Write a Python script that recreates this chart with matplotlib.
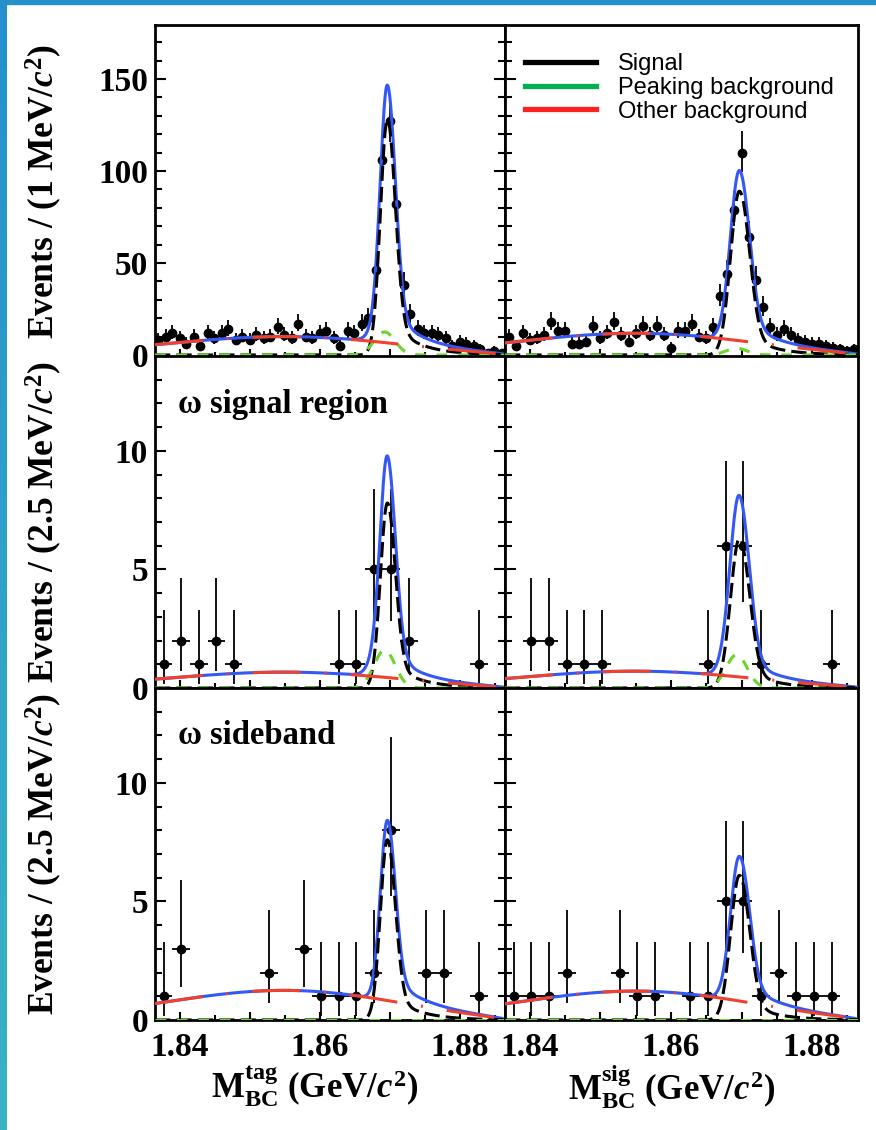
import numpy as np
import matplotlib.pyplot as plt
from matplotlib.lines import Line2D
from matplotlib.ticker import MultipleLocator, FuncFormatter
from matplotlib.colors import LinearSegmentedColormap

plt.rcParams['font.family'] = ['Liberation Serif', 'DejaVu Serif']
plt.rcParams['font.weight'] = 'bold'
plt.rcParams['axes.labelweight'] = 'bold'
plt.rcParams['mathtext.fontset'] = 'custom'
plt.rcParams['mathtext.rm'] = 'Liberation Serif:bold'
plt.rcParams['mathtext.it'] = 'Liberation Serif:bold:italic'
plt.rcParams['mathtext.bf'] = 'Liberation Serif:bold'

# M_BC histogram range (GeV/c^2) and binning
m_lo, m_hi = 1.8365, 1.8865
n_fine, n_coarse = 50, 20

# events / 1 MeV, all candidates (top row)
tag_all = [8, 10, 12, 9, 6, 10, 5, 12, 9, 12, 14, 8, 10, 8, 11, 9, 10, 15, 11, 9,
           17, 10, 9, 12, 13, 9, 5, 13, 12, 17, 20, 46, 106, 127, 82, 38, 22, 14, 12, 12,
           11, 9, 5, 7, 6, 5, 3, 1, 2, 1]
sig_all = [10, 5, 12, 8, 9, 11, 18, 13, 13, 6, 6, 7, 16, 9, 12, 18, 11, 7, 12, 16,
           11, 16, 11, 4, 13, 13, 17, 10, 9, 15, 32, 44, 79, 110, 64, 41, 26, 15, 11, 14,
           11, 8, 7, 6, 6, 5, 4, 3, 2, 3]
# events / 2.5 MeV, omega signal region (middle row) and omega sideband (bottom row)
tag_wsig = [1, 2, 1, 2, 1, 0, 0, 0, 0, 0, 1, 1, 5, 5, 2, 0, 0, 0, 1, 0]
sig_wsig = [0, 2, 2, 1, 1, 1, 0, 0, 0, 0, 0, 1, 6, 6, 1, 0, 0, 0, 1, 0]
tag_wsb = [1, 3, 0, 0, 0, 0, 2, 0, 3, 1, 1, 1, 2, 8, 0, 2, 2, 0, 1, 0]
sig_wsb = [1, 1, 1, 2, 0, 0, 2, 1, 1, 0, 1, 1, 5, 5, 1, 2, 1, 1, 1, 0]

# fit results per panel: (tag, sig) x (all, omega signal, omega sideband)
sig_peak = [128, 89, 7.8, 6.3, 7.6, 6.1]
pkbg_peak = [12.5, 3.6, 1.6, 1.4, 0.0, 0.0]
bkg_peak = [10.0, 11.8, 0.67, 0.71, 1.25, 1.22]
sig_width = [(1.0, 1.1), (1.25, 1.35)]   # MeV, low / high side
m_d = 1.8697


def signal_shape(m, sl, sr):
    d = (m - m_d) * 1000
    core = np.where(d < 0, np.exp(-0.5 * (d / sl) ** 2), np.exp(-0.5 * (d / sr) ** 2))
    dp = np.clip(d, 0, None)
    tail = 0.156 * np.exp(-dp / 3.8) * (1 - np.exp(-(dp / 1.5) ** 2))
    return core + tail


def peaking_shape(m):
    return np.exp(-0.5 * ((m - 1.8693) * 1000 / 1.5) ** 2)


def bkg_shape(m):
    y = np.clip(1 - (m / m_hi) ** 2, 0, None)
    f = np.sqrt(y) * np.exp(-0.5 * ((m - 1.860) / 0.018) ** 2)
    return f / f.max()


def poisson_err(n):
    n = np.asarray(n, float)
    lo = n - n * (1 - 1 / (9 * n) - 1 / (3 * np.sqrt(n))) ** 3
    up = (n + 1) * (1 - 1 / (9 * (n + 1)) + 1 / (3 * np.sqrt(n + 1))) ** 3 - n
    return lo, up


fig = plt.figure(figsize=(8.76, 11.3), dpi=100)

# blue frame strips
strip = fig.add_axes([0, 0, 7 / 876, 1])
strip.imshow(np.linspace(0, 1, 100)[:, None], aspect='auto',
             cmap=LinearSegmentedColormap.from_list('s', ['#2590cc', '#3ab2c4']))
strip.axis('off')
fig.patches.append(plt.Rectangle((0, 1 - 4 / 1130), 1, 4 / 1130, transform=fig.transFigure,
                                 color='#2590cc', zorder=0))

col_x = [155 / 876, 505 / 876]
col_w = [350 / 876, 353 / 876]
row_y = [357, 688, 1020]
row_h = 332

counts = [tag_all, sig_all, tag_wsig, sig_wsig, tag_wsb, sig_wsb]
mgrid = np.linspace(m_lo, m_hi, 800)

axes = []
for i in range(6):
    r, c = divmod(i, 2)
    ax = fig.add_axes([col_x[c], 1 - row_y[r] / 1130, col_w[c], row_h / 1130])
    axes.append(ax)
    nb = n_fine if r == 0 else n_coarse
    edges = np.linspace(m_lo, m_hi, nb + 1)
    centers = 0.5 * (edges[1:] + edges[:-1])
    half = 0.5 * (edges[1] - edges[0])
    n = np.array(counts[i], float)
    keep = n > 0
    lo, up = poisson_err(n[keep])
    ax.errorbar(centers[keep], n[keep], xerr=half, yerr=[lo, up], fmt='o', color='black',
                ms=6, elinewidth=1.3, capsize=0, zorder=2)

    sl, sr = sig_width[c]
    s = sig_peak[i] * signal_shape(mgrid, sl, sr)
    p = pkbg_peak[i] * peaking_shape(mgrid)
    b = bkg_peak[i] * bkg_shape(mgrid)
    ax.plot(mgrid, s + p + b, color='#3558f5', lw=2.2, zorder=3)
    ax.plot(mgrid, s, color='black', lw=2.2, dashes=(5, 2), zorder=4)
    ax.plot(mgrid, p, color='#6ad52a', lw=2.2, dashes=(3.5, 3.5), zorder=4)
    ax.plot(mgrid, b, color='#f0402e', lw=2.2, dashes=(15.7, 7.85, 0.65, 7.85), zorder=5)

    ax.set_xlim(m_lo, m_hi)
    if r == 0:
        ax.set_ylim(-1.1, 179.3)
        ax.yaxis.set_major_locator(MultipleLocator(50))
        ax.yaxis.set_minor_locator(MultipleLocator(10))
    else:
        ax.set_ylim(0, 14)
        ax.yaxis.set_major_locator(MultipleLocator(5))
        ax.yaxis.set_minor_locator(MultipleLocator(1))
    ax.xaxis.set_major_locator(MultipleLocator(0.01))
    ax.xaxis.set_minor_locator(MultipleLocator(0.005))
    ax.xaxis.set_major_formatter(FuncFormatter(
        lambda v, pos: '%.2f' % v if abs(round(v * 50) - v * 50) < 1e-6 else ''))
    for sp in ax.spines.values():
        sp.set_linewidth(2)
    ax.tick_params(axis='x', which='both', direction='in', top=False, width=1.5,
                   labelsize=24, pad=9, labelbottom=(r == 2))
    ax.tick_params(axis='x', which='major', length=6)
    ax.tick_params(axis='x', which='minor', length=3.5)
    ax.tick_params(axis='y', which='both', direction='in', left=True, right=(c == 0),
                   width=1.5, labelsize=24, pad=5, labelleft=(c == 0))
    ax.tick_params(axis='y', which='major', length=8)
    ax.tick_params(axis='y', which='minor', length=5)

for k, unit in [(0, '1'), (2, '2.5'), (4, '2.5')]:
    axes[k].set_ylabel('Events / (%s MeV/$c^2$)' % unit, fontsize=25.5)
    axes[k].yaxis.set_label_coords(-0.26, 0.5)

axes[4].set_xlabel(r'$\mathrm{M}_{\mathrm{BC}}^{\mathrm{tag}}$ (GeV/$c^2$)', fontsize=25)
axes[4].xaxis.set_label_coords(0.457, -0.13)
axes[5].set_xlabel(r'$\mathrm{M}_{\mathrm{BC}}^{\mathrm{sig}}$ (GeV/$c^2$)', fontsize=25)
axes[5].xaxis.set_label_coords(0.472, -0.13)

axes[2].text(0.066, 0.855, 'ω signal region', transform=axes[2].transAxes,
             fontsize=23.5, va='center', ha='left')
axes[4].text(0.066, 0.858, 'ω sideband', transform=axes[4].transAxes,
             fontsize=23.5, va='center', ha='left')

handles = [Line2D([], [], color='black', lw=3.8),
           Line2D([], [], color='#00b050', lw=3.8),
           Line2D([], [], color='#ff2020', lw=3.8)]
axes[1].legend(handles, ['Signal', 'Peaking background', 'Other background'],
               loc='upper left', bbox_to_anchor=(0.057, 0.915), frameon=False,
               borderpad=0, borderaxespad=0, handlelength=3.0, handletextpad=0.93,
               labelspacing=0.07, prop={'family': 'Liberation Sans', 'weight': 'normal', 'size': 17})

fig.savefig('out.png', dpi=100)
